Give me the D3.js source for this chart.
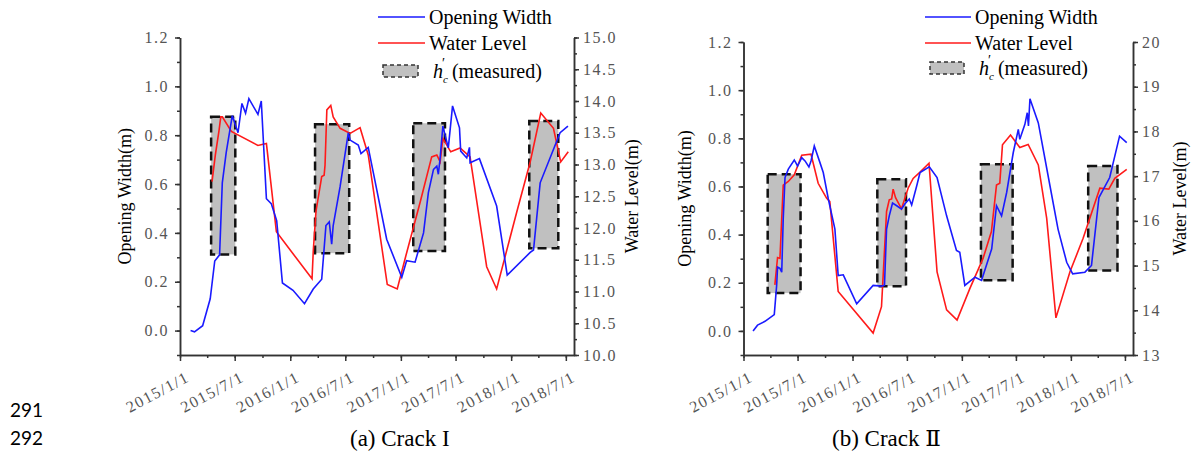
<!DOCTYPE html>
<html>
<head>
<meta charset="utf-8">
<script src="https://cdn.jsdelivr.net/npm/d3@7"></script>
<style>
  body { margin: 0; background: #fff; }
  svg { display: block; }
  .tick text { font-family: "Liberation Serif", Tinos, "DejaVu Serif", serif; font-size: 16px; fill: #555; letter-spacing: 1.5px; }
  .axis path, .axis line { stroke: #333; stroke-width: 1.5; }
</style>
</head>
<body>
<div class="container"></div>
<script>
const width = 1198, height = 452;

// Crack I : opening width (m) and water level (m)
const crack1Width = [
  ["2015-02-05", 0.0], ["2015-02-18", -0.005], ["2015-03-17", 0.02], ["2015-04-11", 0.13],
  ["2015-04-26", 0.285], ["2015-05-12", 0.31], ["2015-05-21", 0.605], ["2015-06-03", 0.73],
  ["2015-06-23", 0.88], ["2015-07-12", 0.81], ["2015-07-25", 0.93], ["2015-08-06", 0.89],
  ["2015-08-17", 0.95], ["2015-09-16", 0.885], ["2015-09-27", 0.94], ["2015-10-14", 0.54],
  ["2015-10-30", 0.52], ["2015-11-17", 0.45], ["2015-12-06", 0.195], ["2016-01-10", 0.165],
  ["2016-02-17", 0.11], ["2016-03-17", 0.17], ["2016-04-14", 0.21], ["2016-04-28", 0.43],
  ["2016-05-09", 0.445], ["2016-05-17", 0.354], ["2016-05-22", 0.43], ["2016-06-14", 0.59],
  ["2016-07-11", 0.81], ["2016-07-17", 0.78], ["2016-08-13", 0.76], ["2016-08-22", 0.725],
  ["2016-09-15", 0.75], ["2016-10-02", 0.646], ["2016-11-15", 0.374], ["2017-01-04", 0.218],
  ["2017-01-20", 0.286], ["2017-02-17", 0.28], ["2017-03-17", 0.40], ["2017-04-02", 0.565],
  ["2017-04-19", 0.66], ["2017-04-30", 0.673], ["2017-05-05", 0.64], ["2017-05-11", 0.707],
  ["2017-05-20", 0.837], ["2017-06-07", 0.748], ["2017-06-21", 0.92], ["2017-07-14", 0.83],
  ["2017-07-18", 0.735], ["2017-08-07", 0.707], ["2017-08-16", 0.75], ["2017-08-18", 0.687],
  ["2017-09-18", 0.704], ["2017-11-14", 0.51], ["2017-12-19", 0.227], ["2018-03-05", 0.32],
  ["2018-03-16", 0.33], ["2018-04-07", 0.605], ["2018-06-12", 0.81], ["2018-07-08", 0.837]
];
const crack1Level = [
  ["2015-04-17", 12.73], ["2015-04-28", 13.15], ["2015-05-10", 13.53], ["2015-05-16", 13.75],
  ["2015-05-21", 13.75], ["2015-06-20", 13.52], ["2015-09-16", 13.30], ["2015-10-14", 13.33],
  ["2015-11-16", 11.94], ["2016-03-13", 11.20], ["2016-03-17", 11.63], ["2016-03-26", 12.26],
  ["2016-04-14", 12.81], ["2016-04-22", 12.83], ["2016-04-25", 12.99], ["2016-05-01", 13.86],
  ["2016-05-14", 13.93], ["2016-05-22", 13.75], ["2016-06-14", 13.57], ["2016-07-17", 13.49],
  ["2016-08-19", 13.58], ["2016-09-15", 13.15], ["2016-11-17", 11.11], ["2016-12-20", 11.04],
  ["2017-01-18", 11.57], ["2017-03-06", 12.41], ["2017-04-13", 13.12], ["2017-04-30", 13.15],
  ["2017-05-11", 13.04], ["2017-05-20", 13.41], ["2017-06-15", 13.20], ["2017-07-16", 13.26],
  ["2017-08-18", 13.12], ["2017-10-12", 11.39], ["2017-11-14", 11.04], ["2018-01-20", 12.26],
  ["2018-03-05", 13.04], ["2018-04-09", 13.81], ["2018-05-21", 13.57], ["2018-06-14", 13.04],
  ["2018-07-09", 13.20]
];
// [start, end, low, high] of the measured h'c boxes
const crack1Boxes = [
  ["2015-04-14", "2015-07-03", 0.312, 0.876],
  ["2016-03-23", "2016-07-14", 0.317, 0.845],
  ["2017-02-11", "2017-05-27", 0.326, 0.849],
  ["2018-03-02", "2018-06-06", 0.337, 0.858]
];

// Crack II
const crack2Width = [
  ["2015-02-02", 0.0], ["2015-02-17", 0.024], ["2015-03-14", 0.04], ["2015-04-14", 0.068],
  ["2015-04-22", 0.189], ["2015-04-25", 0.265], ["2015-05-03", 0.26], ["2015-05-09", 0.244],
  ["2015-05-14", 0.465], ["2015-05-20", 0.637], ["2015-05-31", 0.672], ["2015-06-20", 0.71],
  ["2015-07-01", 0.685], ["2015-07-15", 0.72], ["2015-07-26", 0.706], ["2015-08-08", 0.681],
  ["2015-08-15", 0.706], ["2015-08-26", 0.768], ["2015-09-14", 0.699], ["2015-09-25", 0.658],
  ["2015-10-12", 0.548], ["2015-11-03", 0.423], ["2015-11-14", 0.23], ["2015-12-01", 0.233],
  ["2016-01-15", 0.113], ["2016-03-10", 0.189], ["2016-04-07", 0.186], ["2016-04-17", 0.19],
  ["2016-04-24", 0.423], ["2016-05-03", 0.478], ["2016-05-14", 0.531], ["2016-05-28", 0.52],
  ["2016-06-13", 0.506], ["2016-06-24", 0.527], ["2016-07-09", 0.548], ["2016-07-17", 0.523],
  ["2016-08-03", 0.603], ["2016-08-14", 0.658], ["2016-09-14", 0.682], ["2016-10-10", 0.637],
  ["2016-11-11", 0.478], ["2016-12-14", 0.334], ["2016-12-25", 0.327], ["2017-01-11", 0.189],
  ["2017-02-14", 0.223], ["2017-03-08", 0.21], ["2017-04-11", 0.341], ["2017-04-27", 0.52],
  ["2017-05-14", 0.478], ["2017-05-31", 0.575], ["2017-06-22", 0.74], ["2017-07-09", 0.837],
  ["2017-07-14", 0.796], ["2017-07-31", 0.858], ["2017-08-08", 0.906], ["2017-08-12", 0.851],
  ["2017-08-17", 0.964], ["2017-09-14", 0.864], ["2017-10-23", 0.603], ["2017-11-19", 0.423],
  ["2017-12-18", 0.285], ["2018-01-07", 0.237], ["2018-02-17", 0.244], ["2018-03-11", 0.272],
  ["2018-04-05", 0.554], ["2018-05-11", 0.637], ["2018-06-13", 0.809], ["2018-07-07", 0.782]
];
const crack2Level = [
  ["2015-04-16", 14.57], ["2015-04-25", 15.18], ["2015-05-03", 15.16], ["2015-05-14", 16.80],
  ["2015-05-31", 16.88], ["2015-06-20", 17.03], ["2015-07-15", 17.47], ["2015-08-15", 17.49],
  ["2015-09-08", 16.84], ["2015-10-06", 16.51], ["2015-10-17", 16.43], ["2015-11-14", 14.42],
  ["2016-03-10", 13.49], ["2016-04-07", 14.08], ["2016-04-24", 16.21], ["2016-05-03", 16.47],
  ["2016-05-11", 16.49], ["2016-05-16", 16.71], ["2016-05-24", 16.52], ["2016-06-13", 16.27],
  ["2016-07-05", 16.73], ["2016-07-22", 16.95], ["2016-08-14", 17.09], ["2016-09-13", 17.29],
  ["2016-10-10", 14.86], ["2016-11-11", 14.01], ["2016-12-16", 13.78], ["2017-01-28", 14.49],
  ["2017-03-13", 15.16], ["2017-04-10", 15.76], ["2017-04-27", 16.80], ["2017-05-08", 16.84],
  ["2017-05-17", 17.70], ["2017-06-13", 17.92], ["2017-07-14", 17.64], ["2017-08-11", 17.71],
  ["2017-09-14", 17.25], ["2017-10-12", 16.06], ["2017-11-12", 13.83], ["2017-12-29", 14.86],
  ["2018-02-11", 15.61], ["2018-04-08", 16.73], ["2018-05-08", 16.71], ["2018-05-28", 16.95],
  ["2018-07-07", 17.15]
];
const crack2Boxes = [
  ["2015-03-23", "2015-07-11", 0.157, 0.651],
  ["2016-03-24", "2016-06-28", 0.186, 0.63],
  ["2017-03-06", "2017-06-20", 0.21, 0.692],
  ["2018-02-28", "2018-06-06", 0.251, 0.685]
];

const dateRange = ["2015-01-01", "2018-07-28"];
const widthTicks = [0, 0.2, 0.4, 0.6, 0.8, 1.0, 1.2];
const legendLabels = ["Opening Width", "Water Level"];

const parse = d3.utcParse("%Y-%m-%d");

const svg = d3
  .select(".container")
  .append("svg")
  .attr("width", width)
  .attr("height", height);

const serif = '"Liberation Serif", Tinos, "DejaVu Serif", serif';

const drawPanel = (p) => {
  const x = d3.scaleUtc().domain(dateRange.map(parse)).range([p.left, p.right]);
  const y = d3.scaleLinear().domain([-0.1, 1.2]).range([p.bottom, p.top]);
  const y2 = d3.scaleLinear().domain(p.levelDomain).range([p.bottom, p.top]);

  // measured boxes
  svg
    .append("g")
    .selectAll("rect")
    .data(p.boxes)
    .join("rect")
    .attr("x", (d) => x(parse(d[0])))
    .attr("y", (d) => y(d[3]))
    .attr("width", (d) => x(parse(d[1])) - x(parse(d[0])))
    .attr("height", (d) => y(d[2]) - y(d[3]))
    .attr("fill", "#c0c0c0")
    .attr("stroke", "#111")
    .attr("stroke-width", 2.5)
    .attr("stroke-dasharray", "9,5");

  const widthLine = d3.line().x((d) => x(parse(d[0]))).y((d) => y(d[1]));
  const levelLine = d3.line().x((d) => x(parse(d[0]))).y((d) => y2(d[1]));

  svg.append("path").datum(p.level).attr("d", levelLine)
    .attr("fill", "none").attr("stroke", "#ff1a1a").attr("stroke-width", 1.6);
  svg.append("path").datum(p.width).attr("d", widthLine)
    .attr("fill", "none").attr("stroke", "#1a1aff").attr("stroke-width", 1.6);

  // x axis
  const [x0, x1] = x.domain();
  const majors = d3.utcMonth.every(6).range(x0, x1);
  const minors = d3.utcMonth.every(3).range(x0, x1);
  svg.append("g").attr("class", "axis")
    .attr("transform", `translate(0,${p.bottom})`)
    .call(d3.axisBottom(x).tickValues(minors).tickSize(3).tickSizeOuter(0).tickFormat(""));
  const xg = svg.append("g").attr("class", "axis")
    .attr("transform", `translate(0,${p.bottom})`)
    .call(d3.axisBottom(x).tickValues(majors).tickSize(6).tickSizeOuter(0)
      .tickFormat(d3.utcFormat("%Y/%-m/%-d")));
  xg.selectAll(".tick text")
    .attr("text-anchor", "end")
    .attr("transform", "translate(-1,5) rotate(-28)")
    .attr("dy", "0.9em");

  // left axis
  svg.append("g").attr("class", "axis")
    .attr("transform", `translate(${p.left},0)`)
    .call(d3.axisLeft(y).tickValues(d3.range(-0.1, 1.21, 0.1)).tickSize(3).tickSizeOuter(0).tickFormat(""));
  svg.append("g").attr("class", "axis")
    .attr("transform", `translate(${p.left},0)`)
    .call(d3.axisLeft(y).tickValues(widthTicks).tickSize(5).tickSizeOuter(0).tickPadding(6)
      .tickFormat(d3.format(".1f")));

  // right axis
  svg.append("g").attr("class", "axis")
    .attr("transform", `translate(${p.right},0)`)
    .call(d3.axisRight(y2).tickValues(p.levelMinor).tickSize(3).tickSizeOuter(0).tickFormat(""));
  svg.append("g").attr("class", "axis")
    .attr("transform", `translate(${p.right},0)`)
    .call(d3.axisRight(y2).tickValues(p.levelTicks).tickSize(5).tickSizeOuter(0).tickPadding(4)
      .tickFormat(d3.format(p.levelFormat)));

  const midY = (p.top + p.bottom) / 2;
  svg.append("text")
    .attr("transform", `translate(${p.leftTitleX},${midY}) rotate(-90)`)
    .attr("text-anchor", "middle")
    .style("font-family", serif).style("font-size", "18px")
    .text("Opening Width(m)");
  svg.append("text")
    .attr("transform", `translate(${p.rightTitleX},${midY}) rotate(-90)`)
    .attr("text-anchor", "middle")
    .style("font-family", serif).style("font-size", "18px")
    .text("Water Level(m)");

  // legend
  const lg = svg.append("g").style("font-family", serif).style("font-size", "20px");
  const colors = ["#1a1aff", "#ff1a1a"];
  legendLabels.forEach((lab, i) => {
    const ly = p.legendY[i];
    lg.append("line").attr("x1", p.legendX).attr("x2", p.legendX + p.legendLen)
      .attr("y1", ly).attr("y2", ly).attr("stroke", colors[i]).attr("stroke-width", 1.6);
    lg.append("text").attr("x", p.legendX + p.legendLen + 4).attr("y", ly + 7).text(lab);
  });
  const ry = p.legendY[2];
  lg.append("rect").attr("x", p.legendX + 5).attr("y", ry - 6)
    .attr("width", p.legendLen - 12).attr("height", 12)
    .attr("fill", "#c0c0c0").attr("stroke", "#333").attr("stroke-width", 1.5)
    .attr("stroke-dasharray", "4,3");
  const ht = lg.append("text").attr("x", p.legendX + p.legendLen + 8).attr("y", ry + 7);
  ht.append("tspan").style("font-style", "italic").text("h");
  ht.append("tspan").attr("dy", 5).style("font-style", "italic").style("font-size", "11px").text("c");
  ht.append("tspan").attr("dx", -6).attr("dy", -15).style("font-size", "14px").text("′");
  ht.append("tspan").attr("dy", 10).attr("dx", 7).text("(measured)");

  svg.append("text")
    .attr("x", p.captionX).attr("y", 446)
    .style("font-family", serif).style("font-size", "23px")
    .text(p.caption);
};

drawPanel({
  left: 180, right: 574, top: 37.5, bottom: 355,
  width: crack1Width, level: crack1Level, boxes: crack1Boxes,
  levelDomain: [10, 15],
  levelTicks: d3.range(10, 15.01, 0.5), levelMinor: d3.range(10, 15.01, 0.25), levelFormat: ".1f",
  leftTitleX: 131, rightTitleX: 638,
  legendX: 378, legendLen: 47, legendY: [17, 43, 71],
  captionX: 350, caption: "(a) Crack I"
});

drawPanel({
  left: 743.5, right: 1133, top: 42, bottom: 355,
  width: crack2Width, level: crack2Level, boxes: crack2Boxes,
  levelDomain: [13, 20],
  levelTicks: d3.range(13, 20.01, 1), levelMinor: d3.range(13, 20.01, 0.5), levelFormat: "d",
  leftTitleX: 691, rightTitleX: 1186,
  legendX: 925, legendLen: 46, legendY: [17, 43, 68],
  captionX: 832, caption: "(b) Crack Ⅱ"
});

// line numbers of the source page
svg.selectAll(".lineno")
  .data(["291", "292"])
  .join("text")
  .attr("x", 10)
  .attr("y", (d, i) => 417 + i * 28)
  .style("font-family", '"Lato", "Liberation Sans", sans-serif')
  .style("font-size", "19px")
  .text((d) => d);
</script>
</body>
</html>
